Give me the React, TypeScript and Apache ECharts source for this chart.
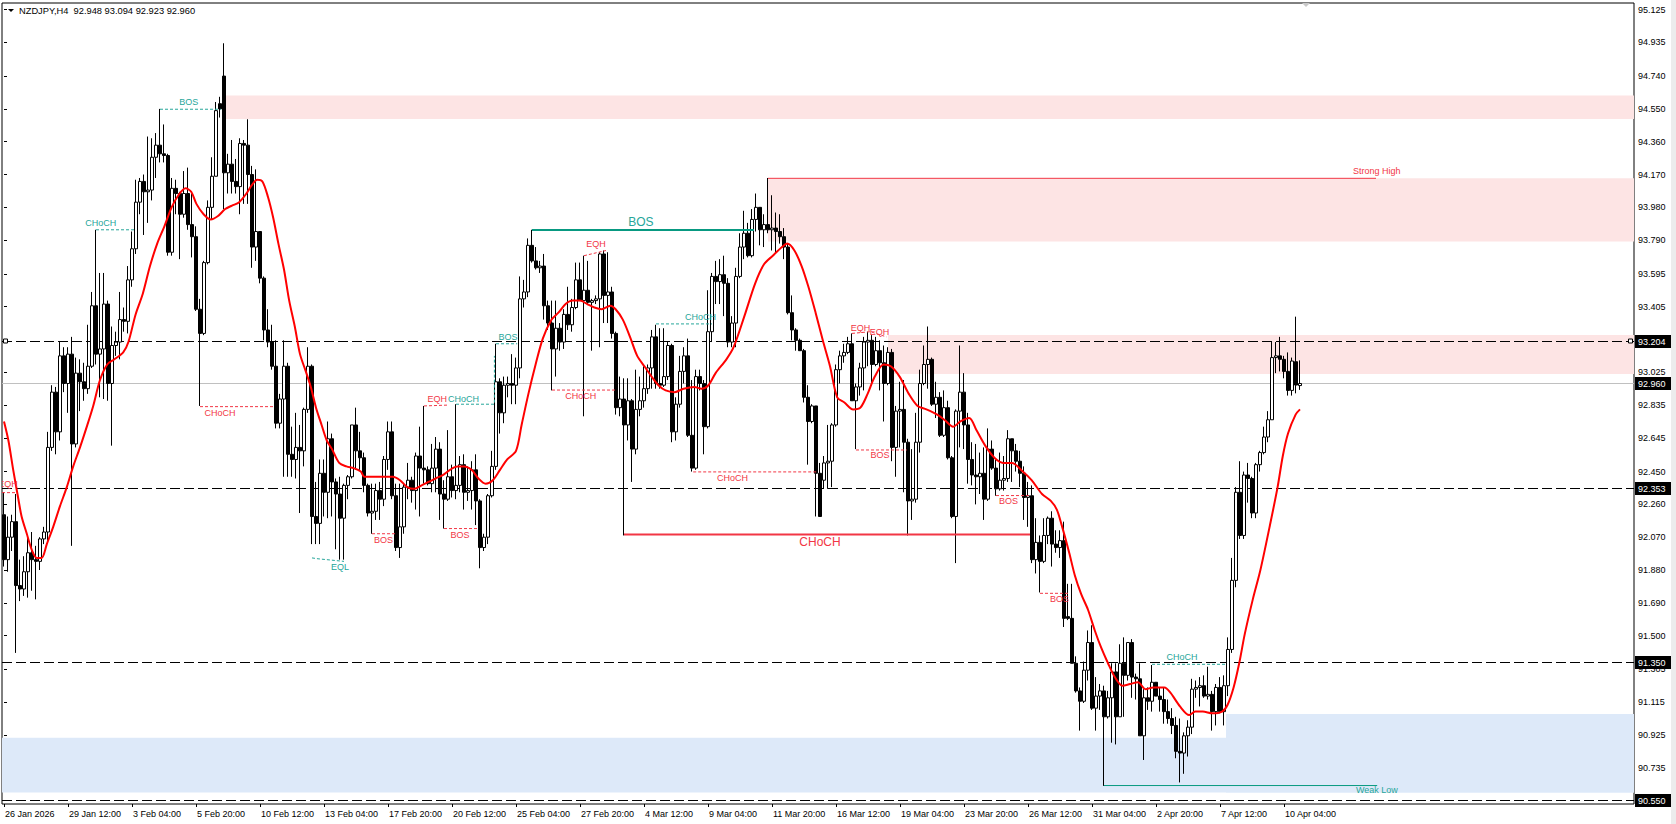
import { useEffect, useRef } from "react";
import * as echarts from "echarts";

const FONT = '"Liberation Sans", Arial, sans-serif';
const TITLE = "NZDJPY,H4  92.948 93.094 92.923 92.960";
const SLOTS = 408;
const LABEL_EVERY = 16;
const X_LABELS = [
  "26 Jan 2026", "29 Jan 12:00", "3 Feb 04:00", "5 Feb 20:00", "10 Feb 12:00", "13 Feb 04:00",
  "17 Feb 20:00", "20 Feb 12:00", "25 Feb 04:00", "27 Feb 20:00", "4 Mar 12:00", "9 Mar 04:00",
  "11 Mar 20:00", "16 Mar 12:00", "19 Mar 04:00", "23 Mar 20:00", "26 Mar 12:00", "31 Mar 04:00",
  "2 Apr 20:00", "7 Apr 12:00", "10 Apr 04:00",
];
const Y_MIN = 90.5251;
const Y_MAX = 95.1632;
const Y_TICKS = [
  95.125, 94.935, 94.74, 94.55, 94.36, 94.17, 93.98, 93.79, 93.595, 93.405, 93.025, 92.835,
  92.645, 92.45, 92.26, 92.07, 91.88, 91.69, 91.5, 91.305, 91.115, 90.925, 90.735,
];

// [open, high, low, close] per H4 bar
const CANDLES: number[][] = [
  [92.20, 92.33, 91.90, 91.94], [91.94, 92.19, 91.87, 92.07], [92.07, 92.20, 91.99, 92.16], [92.16, 92.32, 91.40, 91.79],
  [91.79, 91.94, 91.70, 91.77], [91.77, 91.96, 91.73, 91.87], [91.87, 92.07, 91.72, 91.98], [91.98, 92.10, 91.76, 91.94],
  [91.94, 92.02, 91.71, 91.93], [91.93, 92.07, 91.88, 92.06], [92.06, 92.13, 92.03, 92.10], [92.10, 92.68, 92.05, 92.59],
  [92.59, 92.95, 92.57, 92.91], [92.91, 92.94, 92.55, 92.68], [92.68, 93.20, 92.63, 93.12], [93.12, 93.17, 92.91, 92.96],
  [92.96, 93.17, 92.79, 93.13], [93.13, 93.23, 92.02, 92.61], [92.61, 93.11, 92.59, 93.02], [93.02, 93.10, 92.80, 92.97],
  [92.97, 93.08, 92.86, 92.93], [92.93, 93.30, 92.90, 93.06], [93.06, 93.49, 93.05, 93.41], [93.41, 93.85, 93.07, 93.13],
  [93.13, 93.60, 92.88, 93.16], [93.16, 93.60, 92.87, 93.42], [93.42, 93.44, 92.86, 92.96], [92.96, 93.29, 92.60, 93.18],
  [93.18, 93.26, 93.12, 93.20], [93.20, 93.49, 93.10, 93.33], [93.33, 93.40, 93.26, 93.32], [93.32, 93.64, 93.25, 93.56],
  [93.56, 93.84, 93.52, 93.74], [93.74, 94.14, 93.71, 94.01], [94.01, 94.15, 93.94, 94.13], [94.13, 94.17, 93.82, 94.07],
  [94.07, 94.39, 93.89, 94.08], [94.08, 94.38, 94.02, 94.27], [94.27, 94.41, 94.15, 94.34], [94.34, 94.55, 94.24, 94.29],
  [94.29, 94.46, 94.24, 94.28], [94.28, 94.29, 93.70, 93.72], [93.72, 94.15, 93.70, 94.09], [94.09, 94.14, 93.94, 94.06],
  [94.06, 94.07, 93.68, 93.94], [93.94, 94.19, 93.92, 94.06], [94.06, 94.21, 93.85, 93.88], [93.88, 94.06, 93.69, 93.81],
  [93.81, 93.87, 93.38, 93.39], [93.39, 93.45, 92.83, 93.25], [93.25, 93.67, 93.24, 93.66], [93.66, 94.02, 93.65, 93.98],
  [93.98, 94.27, 93.91, 94.16], [94.16, 94.59, 94.16, 94.54], [94.58, 94.62, 94.50, 94.55], [94.74, 94.93, 93.97, 94.18],
  [94.18, 94.29, 94.06, 94.23], [94.23, 94.37, 94.06, 94.13], [94.13, 94.26, 94.06, 94.10], [94.10, 94.38, 93.94, 94.35],
  [94.35, 94.37, 94.00, 94.34], [94.34, 94.49, 94.00, 94.17], [94.17, 94.22, 93.63, 93.75], [93.75, 94.20, 93.67, 93.84],
  [93.84, 93.84, 93.54, 93.57], [93.57, 93.58, 93.21, 93.27], [93.27, 93.39, 93.17, 93.20], [93.20, 93.30, 93.04, 93.06],
  [93.06, 93.21, 92.70, 92.73], [92.73, 92.90, 92.70, 92.87], [92.87, 93.21, 92.42, 93.06], [93.06, 93.08, 92.42, 92.55],
  [92.55, 92.71, 92.42, 92.52], [92.52, 92.79, 92.41, 92.59], [92.59, 92.72, 92.21, 92.57], [92.57, 92.82, 92.48, 92.81],
  [92.81, 93.17, 92.79, 93.06], [93.06, 93.07, 92.03, 92.19], [92.19, 92.39, 92.03, 92.15], [92.15, 92.52, 92.03, 92.44],
  [92.44, 92.52, 92.19, 92.33], [92.33, 92.74, 92.18, 92.64], [92.64, 92.67, 92.19, 92.39], [92.39, 92.41, 92.00, 92.32],
  [92.32, 92.42, 91.94, 92.18], [92.18, 92.38, 91.94, 92.37], [92.37, 92.43, 92.29, 92.42], [92.42, 92.72, 92.41, 92.72],
  [92.72, 92.82, 92.46, 92.57], [92.57, 92.68, 92.46, 92.53], [92.53, 92.56, 92.33, 92.37], [92.37, 92.38, 92.19, 92.21],
  [92.21, 92.38, 92.09, 92.22], [92.22, 92.38, 92.17, 92.34], [92.34, 92.39, 92.17, 92.29], [92.29, 92.54, 92.25, 92.52],
  [92.52, 92.74, 92.46, 92.68], [92.68, 92.74, 92.29, 92.31], [92.31, 92.38, 91.99, 92.01], [92.01, 92.38, 91.95, 92.13],
  [92.13, 92.38, 92.09, 92.36], [92.36, 92.50, 92.29, 92.40], [92.40, 92.42, 92.27, 92.34], [92.34, 92.56, 92.23, 92.54],
  [92.54, 92.71, 92.19, 92.47], [92.47, 92.83, 92.38, 92.46], [92.46, 92.48, 92.37, 92.38], [92.38, 92.61, 92.33, 92.47],
  [92.47, 92.65, 92.33, 92.58], [92.58, 92.62, 92.17, 92.32], [92.32, 92.40, 92.12, 92.29], [92.29, 92.69, 92.28, 92.42],
  [92.42, 92.49, 92.30, 92.34], [92.34, 92.84, 92.29, 92.37], [92.37, 92.54, 92.33, 92.49], [92.49, 92.55, 92.23, 92.33],
  [92.33, 92.48, 92.28, 92.34], [92.34, 92.51, 92.23, 92.46], [92.46, 92.55, 92.14, 92.28], [92.28, 92.29, 91.89, 92.01],
  [92.01, 92.09, 91.99, 92.07], [92.07, 92.32, 92.03, 92.31], [92.31, 92.57, 92.30, 92.48], [92.48, 93.19, 92.46, 92.97],
  [92.97, 92.99, 92.67, 92.79], [92.79, 93.00, 92.73, 92.95], [92.95, 93.00, 92.88, 92.96], [92.96, 93.13, 92.84, 92.95],
  [92.95, 93.11, 92.84, 93.05], [93.05, 93.58, 92.99, 93.45], [93.45, 93.56, 93.40, 93.49], [93.49, 93.80, 93.46, 93.76],
  [93.76, 93.85, 93.66, 93.67], [93.67, 93.75, 93.62, 93.63], [93.63, 93.67, 93.60, 93.64], [93.64, 93.71, 93.33, 93.41],
  [93.41, 93.44, 93.27, 93.31], [93.31, 93.44, 92.92, 93.16], [93.16, 93.44, 93.00, 93.28], [93.28, 93.31, 93.15, 93.20],
  [93.20, 93.39, 93.16, 93.36], [93.36, 93.52, 93.27, 93.30], [93.30, 93.45, 93.26, 93.40], [93.40, 93.66, 93.39, 93.56],
  [93.56, 93.66, 93.44, 93.44], [93.44, 93.70, 92.77, 93.50], [93.50, 93.67, 93.42, 93.43], [93.43, 93.45, 93.15, 93.44],
  [93.44, 93.47, 93.42, 93.45], [93.45, 93.72, 93.17, 93.71], [93.71, 93.73, 93.31, 93.47], [93.47, 93.72, 93.31, 93.49],
  [93.49, 93.52, 93.22, 93.25], [93.25, 93.26, 92.78, 92.82], [92.82, 93.00, 92.77, 92.87], [92.87, 92.99, 92.08, 92.72],
  [92.72, 92.99, 92.63, 92.86], [92.86, 92.87, 92.39, 92.58], [92.58, 93.04, 92.55, 92.81], [92.81, 93.00, 92.77, 92.86],
  [92.86, 93.06, 92.82, 92.93], [92.93, 93.07, 92.90, 93.05], [93.05, 93.27, 92.93, 93.23], [93.23, 93.30, 92.93, 92.96],
  [92.96, 93.28, 92.93, 92.95], [92.95, 93.28, 92.94, 93.00], [93.00, 93.20, 92.98, 93.18], [93.18, 93.19, 92.62, 92.68],
  [92.68, 92.88, 92.63, 92.84], [92.84, 93.12, 92.82, 93.03], [93.03, 93.17, 92.96, 93.12], [93.12, 93.22, 92.65, 92.66],
  [92.66, 92.98, 92.45, 92.47], [92.47, 93.04, 92.46, 93.00], [93.00, 93.04, 92.92, 92.96], [92.96, 92.98, 92.55, 92.71],
  [92.71, 93.50, 92.70, 93.26], [93.26, 93.60, 93.20, 93.58], [93.58, 93.67, 93.42, 93.55], [93.55, 93.68, 93.42, 93.59],
  [93.59, 93.70, 93.35, 93.54], [93.54, 93.57, 93.17, 93.20], [93.20, 93.35, 93.17, 93.31], [93.31, 93.63, 93.17, 93.58],
  [93.58, 93.83, 93.57, 93.75], [93.75, 93.96, 93.68, 93.83], [93.83, 93.89, 93.69, 93.70], [93.70, 93.97, 93.69, 93.91],
  [93.91, 94.06, 93.84, 93.98], [93.98, 93.98, 93.76, 93.85], [93.85, 93.94, 93.75, 93.88], [93.88, 94.15, 93.83, 93.85],
  [93.85, 94.05, 93.73, 93.86], [93.86, 93.95, 93.71, 93.84], [93.84, 93.94, 93.77, 93.81], [93.81, 93.86, 93.68, 93.75],
  [93.75, 93.77, 93.36, 93.37], [93.37, 93.47, 93.21, 93.27], [93.27, 93.28, 93.15, 93.21], [93.21, 93.22, 93.15, 93.15],
  [93.15, 93.16, 92.85, 92.88], [92.88, 92.95, 92.49, 92.74], [92.74, 92.84, 92.73, 92.83], [92.83, 92.83, 92.19, 92.44],
  [92.44, 92.50, 92.19, 92.19], [92.40, 92.54, 92.35, 92.50], [92.50, 92.72, 92.35, 92.51], [92.51, 92.73, 92.36, 92.72],
  [92.72, 93.07, 92.71, 93.04], [93.04, 93.15, 92.96, 93.12], [93.12, 93.19, 93.08, 93.14], [93.14, 93.23, 93.13, 93.19],
  [93.19, 93.25, 92.86, 92.86], [92.86, 92.96, 92.58, 92.94], [92.94, 93.08, 92.89, 93.05], [93.05, 93.23, 92.92, 93.20],
  [93.20, 93.26, 93.06, 93.21], [93.21, 93.24, 92.96, 93.07], [93.07, 93.23, 93.06, 93.15], [93.15, 93.21, 92.92, 93.08],
  [93.08, 93.18, 92.74, 92.96], [92.96, 93.17, 92.95, 93.14], [93.14, 93.16, 92.51, 92.59], [92.59, 92.83, 92.42, 92.80],
  [92.80, 92.97, 92.59, 92.81], [92.81, 92.98, 92.33, 92.62], [92.62, 92.64, 92.08, 92.28], [92.28, 92.58, 92.17, 92.29],
  [92.29, 92.79, 92.27, 92.62], [92.62, 93.04, 92.56, 92.96], [92.96, 93.18, 92.95, 93.07], [93.07, 93.29, 92.93, 93.10],
  [93.10, 93.11, 92.83, 92.84], [92.84, 92.97, 92.76, 92.88], [92.88, 92.91, 92.65, 92.66], [92.66, 92.92, 92.65, 92.82],
  [92.82, 92.86, 92.52, 92.53], [92.53, 92.54, 92.18, 92.19], [92.19, 92.81, 91.92, 92.80], [92.80, 93.18, 92.59, 92.91],
  [92.91, 93.02, 92.58, 92.72], [92.72, 92.79, 92.38, 92.52], [92.52, 92.62, 92.37, 92.43], [92.43, 92.61, 92.26, 92.42],
  [92.42, 92.56, 92.32, 92.44], [92.44, 92.59, 92.17, 92.29], [92.29, 92.70, 92.28, 92.58], [92.58, 92.63, 92.46, 92.47],
  [92.47, 92.52, 92.31, 92.35], [92.35, 92.56, 92.34, 92.40], [92.40, 92.54, 92.34, 92.41], [92.41, 92.69, 92.39, 92.64],
  [92.64, 92.64, 92.39, 92.57], [92.57, 92.61, 92.45, 92.51], [92.51, 92.57, 92.36, 92.44], [92.44, 92.48, 92.17, 92.30],
  [92.30, 92.39, 92.13, 92.31], [92.31, 92.37, 91.92, 91.94], [91.94, 92.18, 91.86, 92.04], [92.04, 92.08, 91.75, 91.93],
  [91.93, 92.18, 91.92, 92.08], [92.08, 92.19, 92.03, 92.18], [92.18, 92.22, 91.90, 92.03], [92.03, 92.11, 91.98, 92.01],
  [92.01, 92.11, 91.95, 92.05], [92.05, 92.16, 91.55, 91.60], [91.61, 91.80, 91.59, 91.60], [91.60, 91.80, 91.34, 91.34],
  [91.34, 91.38, 91.17, 91.18], [91.18, 91.20, 90.95, 91.12], [91.12, 91.35, 91.11, 91.30], [91.30, 91.53, 91.24, 91.46],
  [91.46, 91.56, 91.07, 91.08], [91.08, 91.26, 90.95, 91.15], [91.15, 91.22, 91.07, 91.18], [91.18, 91.21, 90.63, 91.03],
  [91.03, 91.18, 91.02, 91.14], [91.14, 91.34, 90.88, 91.29], [91.29, 91.34, 90.87, 91.03], [91.03, 91.45, 91.03, 91.34],
  [91.34, 91.49, 91.03, 91.27], [91.27, 91.46, 91.24, 91.46], [91.46, 91.48, 91.14, 91.26], [91.26, 91.28, 91.13, 91.25],
  [91.25, 91.34, 90.92, 90.92], [90.92, 91.19, 90.78, 91.14], [91.14, 91.20, 91.07, 91.12], [91.12, 91.33, 91.06, 91.23],
  [91.23, 91.23, 91.15, 91.15], [91.15, 91.20, 91.06, 91.13], [91.13, 91.20, 90.99, 91.06], [91.06, 91.13, 90.99, 91.02],
  [91.02, 91.08, 90.93, 90.98], [90.98, 91.03, 90.79, 90.83], [90.83, 91.02, 90.65, 90.82], [90.82, 90.94, 90.70, 90.92],
  [90.92, 91.01, 90.80, 90.97], [90.97, 91.25, 90.93, 91.19], [91.19, 91.24, 91.14, 91.20], [91.20, 91.26, 91.09, 91.21],
  [91.21, 91.27, 91.14, 91.15], [91.15, 91.32, 91.13, 91.16], [91.16, 91.18, 90.95, 91.06], [91.06, 91.22, 90.98, 91.20],
  [91.20, 91.26, 91.05, 91.06], [91.06, 91.27, 90.98, 91.21], [91.21, 91.49, 91.15, 91.42], [91.42, 91.95, 91.40, 91.82],
  [91.82, 92.36, 91.78, 92.33], [92.33, 92.51, 92.06, 92.08], [92.08, 92.45, 92.06, 92.43], [92.43, 92.50, 92.27, 92.41],
  [92.41, 92.42, 92.18, 92.21], [92.21, 92.50, 92.18, 92.49], [92.49, 92.57, 92.45, 92.56], [92.56, 92.71, 92.55, 92.65],
  [92.65, 92.80, 92.62, 92.75], [92.75, 93.20, 92.75, 93.11], [93.11, 93.20, 93.02, 93.12], [93.12, 93.23, 93.03, 93.10],
  [93.10, 93.12, 92.99, 93.03], [93.03, 93.14, 92.89, 92.92], [92.92, 93.11, 92.89, 93.09], [93.086, 93.347, 92.903, 92.951],
  [92.948, 93.094, 92.923, 92.96],
];

// moving average (red), sampled along the curve: bar position / price
const MA_X = [
  0, 1.1, 2.3, 3.6, 4.4, 5.7, 6.9, 8.2, 9.4, 10.7, 12.3, 14, 15.7, 17.3, 19, 20.7, 22.3, 24, 25.8, 27.6,
  29.8, 31.1, 32.9, 34.7, 36.5, 38.3, 40.1, 41.9, 43.6, 45.4, 46.8, 48.1, 49.9, 51.7, 53.5, 55.3, 57, 58.8, 60.6, 62,
  63.3, 64.6, 66, 67.3, 68.6, 70, 71.3, 72.7, 74, 75.3, 76.7, 78, 79.4, 80.7, 82, 83.8, 85.6, 87.4, 89.2, 90.1,
  93.6, 95.4, 97.2, 99, 100.8, 102.6, 104.4, 106.1, 107.9, 109.7, 111.5, 113.3, 115.1, 116.9, 118.6, 120.4, 122.2, 124, 125.8, 128,
  129.4, 131.1, 132.9, 134.7, 136.9, 138.6, 140.4, 142.2, 144, 145.8, 147.6, 149.4, 151.6, 152.9, 154.7, 156.5, 158.3, 160.1, 161.9, 163.6,
  165.4, 167.7, 169.9, 172.6, 174.4, 176.1, 177.9, 180.6, 182.4, 185.1, 187.8, 190, 192.2, 194.5, 195.8, 197.6, 199.4, 201.1, 202.9, 204.7,
  206.5, 208.3, 210.1, 212.3, 214.1, 215.9, 217.7, 219.9, 221.7, 223.9, 226.2, 228.4, 230.6, 233.3, 235.1, 237.3, 239.1, 241.3, 243.1, 245.3,
  247.6, 249.8, 252, 254.7, 256.9, 259.5, 261.7, 263.2, 264.3, 266.3, 267.7, 269.3, 271, 272.7, 274.3, 276, 277.7, 279.6, 281.5, 283.5,
  285.4, 287.3, 290.1, 291.6, 294, 296.3, 297.8, 299.7, 302.1, 304.5, 305.9, 307.4, 308.8, 310.2, 312.2, 314.1, 316.4, 318.4, 319.7, 321,
  322.9, 324,
];
const MA_Y = [
  92.74, 92.63, 92.46, 92.29, 92.19, 92.09, 92.0, 91.95, 91.95, 92.03, 92.13, 92.25, 92.36, 92.48, 92.59, 92.71, 92.83, 92.98, 93.07, 93.1,
  93.14, 93.2, 93.36, 93.48, 93.64, 93.77, 93.87, 93.98, 94.05, 94.09, 94.07, 94.0, 93.94, 93.91, 93.93, 93.97, 93.99, 94.01, 94.06, 94.11,
  94.14, 94.13, 94.04, 93.92, 93.77, 93.62, 93.44, 93.29, 93.13, 93.04, 92.94, 92.82, 92.72, 92.63, 92.58, 92.5, 92.48, 92.47, 92.45, 92.42,
  92.42, 92.42, 92.42, 92.4, 92.36, 92.35, 92.37, 92.39, 92.41, 92.43, 92.46, 92.48, 92.48, 92.46, 92.41, 92.38, 92.4, 92.46, 92.52, 92.57,
  92.72, 92.9, 93.07, 93.22, 93.33, 93.37, 93.42, 93.44, 93.44, 93.42, 93.4, 93.39, 93.41, 93.39, 93.33, 93.23, 93.12, 93.06, 93.0, 92.95,
  92.92, 92.91, 92.93, 92.94, 92.93, 92.95, 93.02, 93.1, 93.17, 93.35, 93.54, 93.65, 93.7, 93.75, 93.77, 93.73, 93.64, 93.52, 93.37, 93.21,
  93.06, 92.88, 92.85, 92.81, 92.82, 92.9, 93.0, 93.07, 93.06, 93.0, 92.9, 92.83, 92.81, 92.78, 92.75, 92.71, 92.74, 92.76, 92.69, 92.6,
  92.53, 92.5, 92.5, 92.45, 92.4, 92.32, 92.28, 92.23, 92.15, 91.98, 91.85, 91.74, 91.65, 91.53, 91.43, 91.34, 91.26, 91.21, 91.22, 91.23,
  91.19, 91.2, 91.2, 91.17, 91.09, 91.04, 91.06, 91.06, 91.05, 91.06, 91.1, 91.2, 91.34, 91.51, 91.71, 91.88, 92.13, 92.36, 92.54, 92.67,
  92.78, 92.81,
];

const PRICE_LEVELS = [
  { price: 93.204, bid: false },
  { price: 92.96, bid: true },
  { price: 92.353, bid: false },
  { price: 91.35, bid: false },
  { price: 90.55, bid: false },
];

const PINK = "#fde4e4";
const BLUE = "#dde9f9";
const ZONES = [
  { from: 55, top: 94.627, bottom: 94.492, color: PINK },
  { from: 191, top: 94.148, bottom: 93.782, color: PINK },
  { from: 221, top: 93.241, bottom: 93.015, color: PINK },
  { from: -0.5, top: 90.909, bottom: 90.592, color: BLUE },
  { from: 305.5, top: 91.046, bottom: 90.592, color: BLUE },
];

const TEAL = "#26a69a";
const TEAL_DARK = "#089981";
const RED = "#f23645";
const STRUCTURE = [
  { pts: [[39, 94.548], [54.2, 94.548]], color: TEAL, width: 1, dash: true },
  { pts: [[23, 93.85], [32.5, 93.85]], color: TEAL, width: 1, dash: true },
  { pts: [[49, 92.826], [67.7, 92.826]], color: RED, width: 1, dash: true },
  { pts: [[77, 91.95], [78.5, 91.945], [85, 91.93]], color: TEAL, width: 1, dash: true },
  { pts: [[92, 92.09], [98, 92.09]], color: RED, width: 1, dash: true },
  { pts: [[110, 92.12], [118.5, 92.12]], color: RED, width: 1, dash: true },
  { pts: [[105, 92.83], [111, 92.835]], color: RED, width: 1, dash: true },
  { pts: [[113, 92.84], [122.6, 92.84], [122.6, 93.12]], color: TEAL, width: 1, dash: true },
  { pts: [[123, 93.19], [128.3, 93.19]], color: TEAL, width: 1, dash: true },
  { pts: [[132, 93.849], [187.5, 93.849]], color: TEAL_DARK, width: 2, dash: false },
  { pts: [[145, 93.7], [150.5, 93.73]], color: RED, width: 1, dash: true },
  { pts: [[137, 92.922], [153, 92.922]], color: RED, width: 1, dash: true },
  { pts: [[163, 93.305], [177, 93.305]], color: TEAL, width: 1, dash: true },
  { pts: [[172.3, 92.448], [203.3, 92.448]], color: RED, width: 1, dash: true },
  { pts: [[155, 92.085], [256.5, 92.085]], color: RED, width: 2, dash: false },
  { pts: [[191, 94.148], [343, 94.148]], color: RED, width: 1, dash: false },
  { pts: [[212, 93.25], [216.6, 93.26], [220.6, 93.23]], color: RED, width: 1, dash: true },
  { pts: [[213, 92.575], [225.7, 92.575]], color: RED, width: 1, dash: true },
  { pts: [[248, 92.311], [256.2, 92.311]], color: RED, width: 1, dash: true },
  { pts: [[259, 91.745], [266, 91.745]], color: RED, width: 1, dash: true },
  { pts: [[287, 91.334], [305.7, 91.334]], color: TEAL, width: 1, dash: true },
  { pts: [[275, 90.632], [343.3, 90.632]], color: TEAL_DARK, width: 1, dash: false },
  { pts: [[-0.5, 92.328], [3, 92.328]], color: RED, width: 1, dash: true },
];

const TAGS = [
  { text: "BOS", x: 46.2, y: 94.588, color: TEAL, size: 9 },
  { text: "CHoCH", x: 24.2, y: 93.89, color: TEAL, size: 9 },
  { text: "CHoCH", x: 54, y: 92.79, color: RED, size: 9 },
  { text: "EQL", x: 84, y: 91.9, color: TEAL, size: 9 },
  { text: "BOS", x: 94.9, y: 92.055, color: RED, size: 9 },
  { text: "BOS", x: 114, y: 92.085, color: RED, size: 9 },
  { text: "EQH", x: 108.3, y: 92.872, color: RED, size: 9 },
  { text: "CHoCH", x: 114.9, y: 92.872, color: TEAL, size: 9 },
  { text: "BOS", x: 126, y: 93.23, color: TEAL, size: 9 },
  { text: "BOS", x: 159.2, y: 93.893, color: TEAL, size: 12 },
  { text: "EQH", x: 148, y: 93.765, color: RED, size: 9 },
  { text: "CHoCH", x: 144.2, y: 92.89, color: RED, size: 9 },
  { text: "CHoCH", x: 174.1, y: 93.343, color: TEAL, size: 9 },
  { text: "CHoCH", x: 182.1, y: 92.413, color: RED, size: 9 },
  { text: "CHoCH", x: 204, y: 92.04, color: RED, size: 12 },
  { text: "Strong High", x: 343.2, y: 94.19, color: RED, size: 9 },
  { text: "EQH", x: 214.1, y: 93.283, color: RED, size: 9 },
  { text: "EQH", x: 218.9, y: 93.258, color: RED, size: 9 },
  { text: "BOS", x: 219, y: 92.545, color: RED, size: 9 },
  { text: "BOS", x: 251.1, y: 92.28, color: RED, size: 9 },
  { text: "BOS", x: 263.9, y: 91.712, color: RED, size: 9 },
  { text: "CHoCH", x: 294.5, y: 91.375, color: TEAL, size: 9 },
  { text: "Weak Low", x: 343.2, y: 90.604, color: TEAL, size: 9 },
  { text: "EQH", x: 1.0, y: 92.378, color: RED, size: 9 },
];

const HANDLES = [[0.5, 93.204], [406.75, 93.204]];

export default function App() {
  const ref = useRef<HTMLDivElement>(null);

  useEffect(() => {
    if (!ref.current) return;
    const chart = echarts.init(ref.current, null, { renderer: "svg" });
    const categories = Array.from({ length: SLOTS }, (_, i) => String(i));
    const showLabel = (i: number) => i % LABEL_EVERY === 0 && i / LABEL_EVERY < X_LABELS.length;
    const candleData = CANDLES.map(([o, h, l, c]) => [o, c, Math.min(l, o, c), Math.max(h, o, c)]);
    const X_MIN = -0.5;
    const X_MAX = SLOTS - 0.5;

    const structSeries = STRUCTURE.map((s) => ({
      type: "line",
      xAxisIndex: 1,
      yAxisIndex: 0,
      data: s.pts,
      symbol: "none",
      silent: true,
      z: 4,
      lineStyle: { color: s.color, width: s.width, type: s.dash ? [3, 2] : "solid" },
    }));

    const option: any = {
      animation: false,
      backgroundColor: "#ffffff",
      grid: {
        left: 2,
        top: 3,
        width: 1632,
        height: 801,
        show: true,
        borderColor: "#000",
        borderWidth: 1,
        backgroundColor: "#ffffff",
      },
      xAxis: [
        {
          type: "category",
          data: categories,
          boundaryGap: true,
          axisLine: { show: false },
          axisTick: {
            show: true,
            alignWithLabel: true,
            interval: (i: number) => showLabel(i),
            length: 3,
            lineStyle: { color: "#000" },
          },
          axisLabel: {
            interval: (i: number) => showLabel(i),
            formatter: (_v: string, i: number) => X_LABELS[i / LABEL_EVERY] ?? "",
            align: "left",
            margin: 5,
            padding: [0, 0, 0, 1],
            color: "#000",
            fontSize: 9,
            fontFamily: FONT,
          },
          splitLine: { show: false },
        },
        { type: "value", min: X_MIN, max: X_MAX, show: false },
      ],
      yAxis: {
        type: "value",
        min: Y_MIN,
        max: Y_MAX,
        position: "right",
        axisLine: { show: false },
        axisTick: { show: true, customValues: Y_TICKS, length: 3, lineStyle: { color: "#000" } },
        axisLabel: {
          customValues: Y_TICKS,
          formatter: (v: number) => v.toFixed(3),
          color: "#000",
          fontSize: 9,
          fontFamily: FONT,
          margin: 4,
        },
        splitLine: { show: false },
      },
      graphic: [
        { type: "polygon", shape: { points: [[8, 9], [14, 9], [11, 12]] }, style: { fill: "#000" } },
        {
          type: "text",
          left: 19,
          top: 6,
          style: { text: TITLE, fill: "#000", font: `9.3px ${FONT}` },
        },
        { type: "polygon", shape: { points: [[1302, 3], [1310, 3], [1306, 7]] }, style: { fill: "#c8c8c8" } },
        { type: "rect", shape: { x: 1671, y: 0, width: 5, height: 824 }, style: { fill: "#ececec" } },
      ],
      series: [
        {
          type: "custom",
          xAxisIndex: 1,
          yAxisIndex: 0,
          z: 1,
          silent: true,
          clip: true,
          data: ZONES.map((zn) => [zn.from, zn.top]),
          renderItem: (params: any, api: any) => {
            const zn = ZONES[params.dataIndex];
            const a = api.coord([zn.from, zn.top]);
            const b = api.coord([X_MAX, zn.bottom]);
            return {
              type: "rect",
              shape: { x: a[0], y: a[1], width: b[0] - a[0], height: b[1] - a[1] },
              style: { fill: zn.color },
            };
          },
        },
        {
          type: "custom",
          xAxisIndex: 1,
          yAxisIndex: 0,
          z: 2,
          silent: true,
          clip: false,
          data: PRICE_LEVELS.map((p) => [X_MAX, p.price]),
          renderItem: (params: any, api: any) => {
            const lv = PRICE_LEVELS[params.dataIndex];
            const a = api.coord([X_MIN, lv.price]);
            const b = api.coord([X_MAX, lv.price]);
            const y = Math.round(a[1]) + 0.5;
            return {
              type: "group",
              children: [
                {
                  type: "line",
                  shape: { x1: a[0], y1: y, x2: b[0], y2: y },
                  style: {
                    stroke: lv.bid ? "#c0c0c0" : "#000",
                    lineWidth: 1,
                    lineDash: lv.bid ? null : [10, 4],
                  },
                },
                {
                  type: "rect",
                  shape: { x: b[0] + 1, y: y - 6.5, width: 36, height: 13 },
                  style: { fill: "#000" },
                  z2: 10,
                },
                {
                  type: "text",
                  x: b[0] + 4,
                  y: y,
                  style: {
                    text: lv.price.toFixed(3),
                    fill: "#fff",
                    font: `9px ${FONT}`,
                    verticalAlign: "middle",
                    align: "left",
                  },
                  z2: 11,
                },
              ],
            };
          },
        },
        {
          type: "candlestick",
          xAxisIndex: 0,
          yAxisIndex: 0,
          data: candleData,
          barWidth: 3,
          z: 3,
          silent: true,
          itemStyle: {
            color: "#ffffff",
            color0: "#000000",
            borderColor: "#000000",
            borderColor0: "#000000",
            borderWidth: 1,
          },
        },
        ...structSeries,
        {
          type: "line",
          xAxisIndex: 1,
          yAxisIndex: 0,
          data: MA_X.map((x, i) => [x, MA_Y[i]]),
          symbol: "none",
          smooth: 0.3,
          silent: true,
          z: 5,
          lineStyle: { color: "#ff0000", width: 2 },
        },
        {
          type: "custom",
          xAxisIndex: 1,
          yAxisIndex: 0,
          z: 6,
          silent: true,
          clip: true,
          data: TAGS.map((t) => [t.x, t.y]),
          renderItem: (params: any, api: any) => {
            const t = TAGS[params.dataIndex];
            const p = api.coord([t.x, t.y]);
            return {
              type: "text",
              x: p[0],
              y: p[1],
              style: {
                text: t.text,
                fill: t.color,
                font: `${t.size}px ${FONT}`,
                align: "center",
                verticalAlign: "middle",
              },
            };
          },
        },
        {
          type: "custom",
          xAxisIndex: 1,
          yAxisIndex: 0,
          z: 7,
          silent: true,
          clip: false,
          data: HANDLES,
          renderItem: (_params: any, api: any) => {
            const p = api.coord([api.value(0), api.value(1)]);
            return {
              type: "rect",
              shape: { x: Math.round(p[0]) - 2.5, y: Math.round(p[1]) - 2, width: 4, height: 4 },
              style: { fill: "#fff", stroke: "#000", lineWidth: 1 },
            };
          },
        },
      ],
    };
    chart.setOption(option);
    return () => chart.dispose();
  }, []);

  return (
    <div
      ref={ref}
      style={{ position: "fixed", left: 0, top: 0, width: 1676, height: 824, background: "#fff" }}
    />
  );
}
